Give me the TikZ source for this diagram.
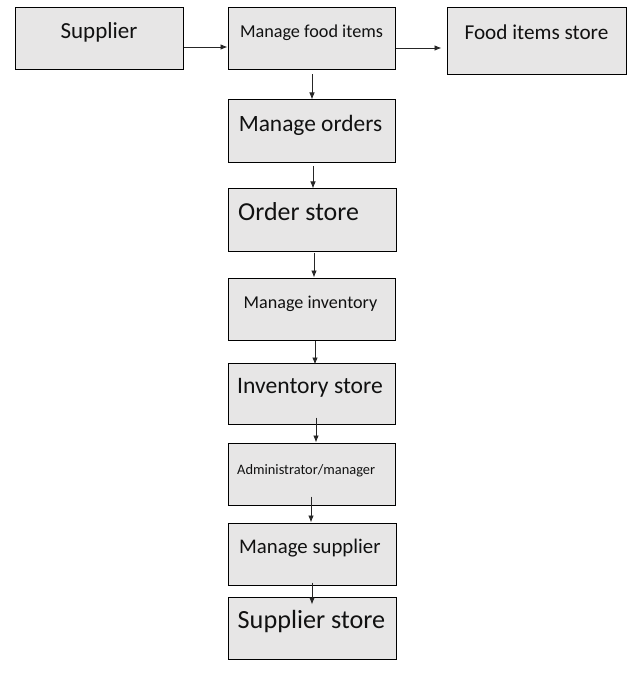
\documentclass[tikz,border=0pt]{standalone}
\usepackage{fontspec}
\setmainfont{Carlito}
\usetikzlibrary{arrows.meta,calc}
\definecolor{boxgray}{HTML}{E7E6E6}
\definecolor{txtcol}{HTML}{111111}
\tikzset{
  box/.style={draw=black, fill=boxgray, line width=1pt, inner sep=0pt},
  arr/.style={draw=black!85, line width=0.8pt, -{Latex[length=7pt,width=5.5pt]}},
  txt/.style={inner sep=0pt, text=txtcol, anchor=base},
  txtl/.style={txt, anchor=base west},
  fs/.style={font=\fontsize{#1}{#1}\selectfont}
}
\begin{document}
\begin{tikzpicture}[x=1pt,y=-1pt]
\useasboundingbox (0,0) rectangle (638,676);
% boxes
\node[box, minimum width=168pt, minimum height=62pt] (sup) at (99,39) {};
\node[box, minimum width=167pt, minimum height=62pt] (mfi) at (311.5,39) {};
\node[box, minimum width=179pt, minimum height=67pt] (fis) at (536.5,41.5) {};
\node[box, minimum width=167pt, minimum height=63pt] (mo) at (311.5,131.5) {};
\node[box, minimum width=168pt, minimum height=62pt] (os) at (312,220) {};
\node[box, minimum width=167pt, minimum height=62pt] (mi) at (311.5,309) {};
\node[box, minimum width=167pt, minimum height=61pt] (is) at (311.5,393.5) {};
\node[box, minimum width=167pt, minimum height=62pt] (adm) at (311.5,474) {};
\node[box, minimum width=168pt, minimum height=62pt] (ms) at (312,554) {};
\node[box, minimum width=168pt, minimum height=62pt] (ss) at (312,628) {};
% texts
\node[txt, fs=23] (tsup) at (99,39) {Supplier};
\node[txt, fs=18.2] (tmfi) at (311.5,38) {Manage food items};
\node[txt, fs=21.2] (tfis) at (536.5,40) {Food items store};
\node[txt, fs=23.4] (tmo) at (310.5,132) {Manage orders};
\node[txtl, fs=25.9] (tos) at (238,220) {Order store};
\node[txt, fs=18.1] (tmi) at (310.5,308) {Manage inventory};
\node[txt, fs=23.6] (tis) at (310,393) {Inventory store};
\node[txtl, fs=14.4] (tadm) at (237,474) {Administrator/manager};
\node[txtl, fs=20.8] (tms) at (239,553) {Manage supplier};
\node[txt, fs=26.2] (tss) at (311.5,628) {Supplier store};
% connectors
\draw[arr] ($(sup.east)+(0,8)$) -- ($(mfi.west)+(0,8)$);
\draw[arr] ($(mfi.east)+(0,9)$) -- ($(fis.west)+(-5,6.5)$);
\draw[arr] ($(mfi.south)+(0.5,4)$) -- ($(mo.north)+(0.5,0)$);
\draw[arr] ($(mo.south)+(1.5,3)$) -- ($(os.north)+(1,0)$);
\draw[arr] ($(os.south)+(2,1)$) -- ($(mi.north)+(2.5,0)$);
\draw[arr] ($(mi.south)+(3.5,0)$) -- ($(is.north)+(3.5,2)$);
\draw[arr] ($(is.south)+(4.5,-7)$) -- ($(adm.north)+(4.5,0)$);
\draw[arr] ($(adm.south)+(-0.5,-9)$) -- ($(ms.north)+(-1,0)$);
\draw[arr] ($(ms.south)+(0,-3)$) -- ($(ss.north)+(0,8)$);
\end{tikzpicture}
\end{document}
